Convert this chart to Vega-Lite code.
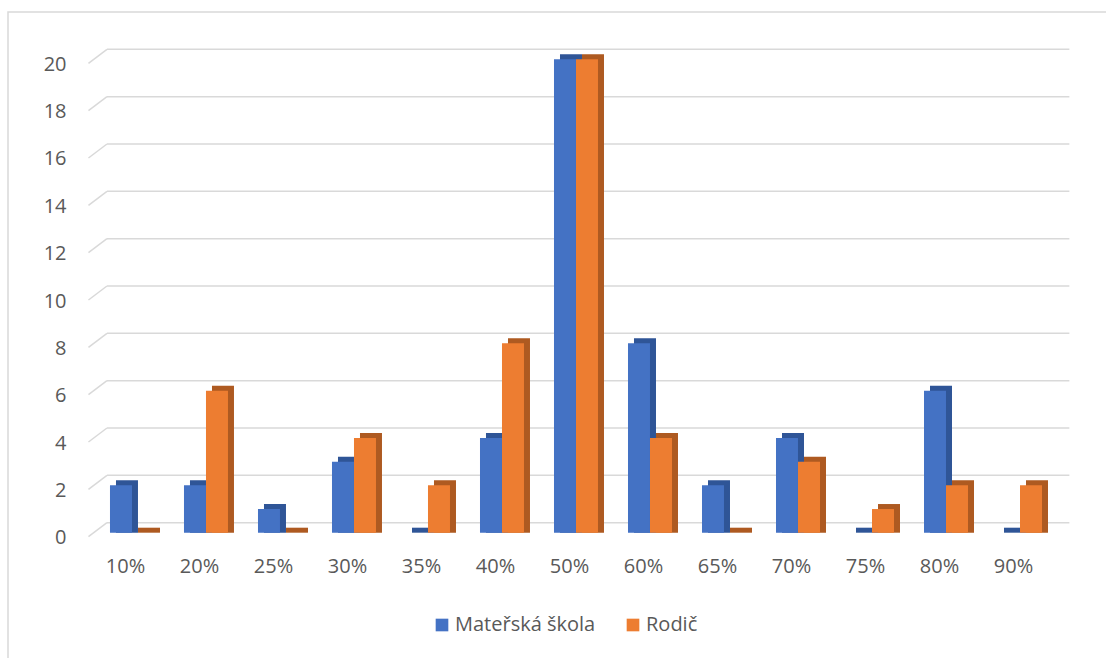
{
  "$schema": "https://vega.github.io/schema/vega-lite/v6.json",
  "width": 1101,
  "height": 649,
  "autosize": {"type": "none"},
  "padding": {"left": 8, "top": 12, "right": -3, "bottom": -3},
  "background": "white",
  "config": {
    "view": {"stroke": "#d9d9d9", "strokeWidth": 1.5},
    "font": "Open Sans",
    "axisX": {
      "title": null,
      "offset": -105,
      "domain": false,
      "ticks": false,
      "grid": false,
      "labelPadding": 10,
      "labelBaseline": "middle",
      "labelAngle": 0,
      "labelFont": "Open Sans",
      "labelFontSize": 20,
      "labelColor": "#595959"
    },
    "axisY": {
      "title": null,
      "grid": false,
      "domain": false,
      "ticks": false,
      "offset": -62,
      "labelPadding": 4,
      "labelOffset": 15,
      "labelFont": "Open Sans",
      "labelFontSize": 20,
      "labelColor": "#595959"
    }
  },
  "datasets": {
    "bars": [
      {"kat": "10%", "serie": "Mateřská škola", "pocet": 2},
      {"kat": "10%", "serie": "Rodič", "pocet": 0},
      {"kat": "20%", "serie": "Mateřská škola", "pocet": 2},
      {"kat": "20%", "serie": "Rodič", "pocet": 6},
      {"kat": "25%", "serie": "Mateřská škola", "pocet": 1},
      {"kat": "25%", "serie": "Rodič", "pocet": 0},
      {"kat": "30%", "serie": "Mateřská škola", "pocet": 3},
      {"kat": "30%", "serie": "Rodič", "pocet": 4},
      {"kat": "35%", "serie": "Mateřská škola", "pocet": 0},
      {"kat": "35%", "serie": "Rodič", "pocet": 2},
      {"kat": "40%", "serie": "Mateřská škola", "pocet": 4},
      {"kat": "40%", "serie": "Rodič", "pocet": 8},
      {"kat": "50%", "serie": "Mateřská škola", "pocet": 20},
      {"kat": "50%", "serie": "Rodič", "pocet": 20},
      {"kat": "60%", "serie": "Mateřská škola", "pocet": 8},
      {"kat": "60%", "serie": "Rodič", "pocet": 4},
      {"kat": "65%", "serie": "Mateřská škola", "pocet": 2},
      {"kat": "65%", "serie": "Rodič", "pocet": 0},
      {"kat": "70%", "serie": "Mateřská škola", "pocet": 4},
      {"kat": "70%", "serie": "Rodič", "pocet": 3},
      {"kat": "75%", "serie": "Mateřská škola", "pocet": 0},
      {"kat": "75%", "serie": "Rodič", "pocet": 1},
      {"kat": "80%", "serie": "Mateřská škola", "pocet": 6},
      {"kat": "80%", "serie": "Rodič", "pocet": 2},
      {"kat": "90%", "serie": "Mateřská škola", "pocet": 0},
      {"kat": "90%", "serie": "Rodič", "pocet": 2}
    ],
    "ticks": [
      {"t": 0}, {"t": 2}, {"t": 4}, {"t": 6}, {"t": 8}, {"t": 10},
      {"t": 12}, {"t": 14}, {"t": 16}, {"t": 18}, {"t": 20}
    ]
  },
  "encoding": {},
  "resolve": {"scale": {"xOffset": "independent"}},
  "layer": [
    {
      "data": {"name": "ticks"},
      "mark": {"type": "rule", "color": "#d9d9d9", "strokeWidth": 1.5},
      "encoding": {
        "x": {
          "datum": "10%", "bandPosition": 0.25, "type": "nominal",
          "scale": {"domain": ["10%", "20%", "25%", "30%", "35%", "40%", "50%", "60%", "65%", "70%", "75%", "80%", "90%"]}
        },
        "x2": {"datum": "90%", "bandPosition": 1.255},
        "y": {"field": "t", "type": "quantitative", "axis": {"title": null, "values": [0, 2, 4, 6, 8, 10, 12, 14, 16, 18, 20]}}
      }
    },
    {
      "data": {"name": "ticks"},
      "mark": {"type": "rule", "color": "#d9d9d9", "strokeWidth": 1.5, "yOffset": 14, "y2Offset": 0},
      "encoding": {
        "x": {"datum": "10%", "bandPosition": 0, "type": "nominal"},
        "x2": {"datum": "10%", "bandPosition": 0.25},
        "y": {"field": "t", "type": "quantitative", "axis": {"title": null, "values": [0, 2, 4, 6, 8, 10, 12, 14, 16, 18, 20]}},
        "y2": {"field": "t"}
      }
    },
    {
      "data": {"name": "bars"},
      "mark": {"type": "bar", "yOffset": 5, "y2Offset": 10},
      "encoding": {
        "x": {"field": "kat", "type": "nominal", "sort": null},
        "xOffset": {
          "field": "serie",
          "type": "nominal",
          "sort": ["Mateřská škola", "Rodič"],
          "scale": {"paddingInner": 0, "paddingOuter": 0.682, "align": 0.917}
        },
        "y": {"field": "pocet", "type": "quantitative", "stack": null, "axis": {"title": null, "values": [0, 2, 4, 6, 8, 10, 12, 14, 16, 18, 20]}},
        "y2": {"datum": 0},
        "color": {
          "condition": {"test": "datum.serie === 'Rodič'", "value": "#AE5A21"},
          "value": "#2F5597"
        }
      }
    },
    {
      "data": {"name": "bars"},
      "mark": {"type": "bar", "yOffset": 10, "y2Offset": 10},
      "encoding": {
        "x": {
          "field": "kat",
          "type": "nominal",
          "sort": null,
          "scale": {
            "domain": ["10%", "20%", "25%", "30%", "35%", "40%", "50%", "60%", "65%", "70%", "75%", "80%", "90%"],
            "paddingInner": 0, "paddingOuter": 0.939, "align": 0.579
          }
        },
        "xOffset": {
          "field": "serie",
          "type": "nominal",
          "sort": ["Mateřská škola", "Rodič"],
          "scale": {"paddingInner": 0, "paddingOuter": 0.682, "align": 0.717}
        },
        "y": {
          "field": "pocet",
          "type": "quantitative",
          "stack": null,
          "scale": {"domain": [-5.843, 21.576], "nice": false, "zero": false},
          "axis": {"title": null, "values": [0, 2, 4, 6, 8, 10, 12, 14, 16, 18, 20]}
        },
        "y2": {"datum": 0},
        "color": {
          "field": "serie",
          "type": "nominal",
          "sort": ["Mateřská škola", "Rodič"],
          "scale": {"domain": ["Mateřská škola", "Rodič"], "range": ["#4472C4", "#ED7D31"]},
          "legend": {
            "title": null,
            "orient": "none",
            "direction": "horizontal",
            "legendX": 424,
            "legendY": 603,
            "padding": 0,
            "symbolType": "square",
            "symbolSize": 160,
            "symbolStrokeWidth": 0,
            "symbolOpacity": 1,
            "labelOffset": 3,
            "columnPadding": 27,
            "labelFont": "Open Sans",
            "labelFontSize": 20,
            "labelColor": "#595959"
          }
        }
      }
    }
  ]
}
